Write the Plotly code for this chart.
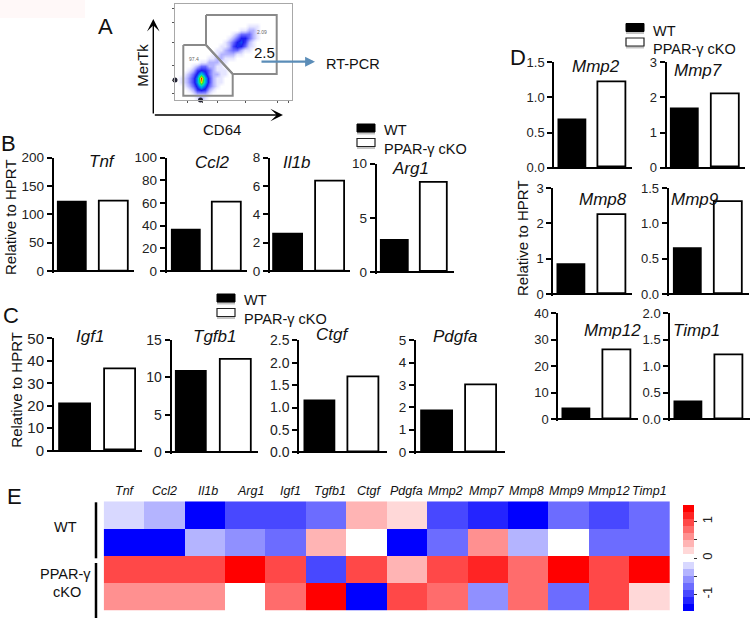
import plotly.graph_objects as go

W, H = 750, 621
FONT = "Liberation Sans"

# ---------- data ----------
genes = ["Tnf", "Ccl2", "Il1b", "Arg1", "Igf1", "Tgfb1", "Ctgf", "Pdgfa",
         "Mmp2", "Mmp7", "Mmp8", "Mmp9", "Mmp12", "Timp1"]
wt_values = [120, 35.5, 2.6, 2.9, 20.5, 10.8, 1.13, 1.8, 0.67, 1.65, 0.82, 0.63, 3.8, 0.32]
cko_values = [123, 60.5, 6.3, 8.2, 36.3, 12.4, 1.68, 3.0, 1.21, 2.1, 2.23, 1.3, 26, 1.2]
y_max = [200, 100, 8, 10, 50, 15, 2.5, 5, 1.5, 3, 3, 1.5, 40, 2]
y_step = [50, 20, 2, 5, 10, 5, 0.5, 1, 0.5, 1, 1, 0.5, 10, 0.5]
y_fmt = ["", "", "", "", "", "", ".1f", "", ".1f", "", "", ".1f", "", ".1f"]

heat_row_labels = ["WT 1", "WT 2", "cKO 1", "cKO 2"]
heat_wt1 = [-0.2, -0.4, -1.4, -1.0, -1.0, -0.8, 0.4, 0.2, -1.0, -1.2, -1.4, -0.8, -1.0, -0.8]
heat_wt2 = [-1.4, -1.4, -0.4, -0.6, -0.8, 0.4, 0.0, -1.4, -0.8, 0.6, -0.4, 0.0, -0.8, -0.8]
heat_ko1 = [1.0, 1.0, 1.0, 1.4, 1.0, -1.0, 1.0, 0.4, 1.0, 1.2, 0.8, 1.4, 1.0, 1.4]
heat_ko2 = [0.6, 0.6, 0.6, 0.0, 0.8, 1.4, -1.4, 1.0, 0.8, -0.6, 0.8, -0.8, 1.0, 0.2]
heat_colors = ["#0000ff", "#2424ff", "#4848ff", "#6c6cff", "#9090ff", "#b4b4ff", "#d8d8ff", "#ffffff",
               "#ffd8d8", "#ffb4b4", "#ff9090", "#ff6c6c", "#ff4848", "#ff2424", "#ff0000"]

# flow-cytometry density, read on a coarse grid (0 empty .. 9 peak)
flow_density = [
    [0]*29, [0]*29, [0]*29, [0]*29, [0]*29,
    [0,0,0,0,0,0,0,0,0,0,0,0,0,0,0,0,0,0,1,1,1,0,0,0,0,0,0,0,0],
    [0,0,0,0,0,0,0,0,0,0,0,0,0,0,0,0,1,1,2,2,1,0,0,0,0,0,0,0,0],
    [0,0,0,0,0,0,0,0,0,0,0,0,0,0,1,2,3,3,3,2,1,0,0,0,0,0,0,0,0],
    [0,0,0,0,0,0,0,0,0,0,0,0,0,1,2,3,4,4,3,2,1,0,0,0,0,0,0,0,0],
    [0,0,0,0,0,0,0,0,0,0,0,0,1,2,3,4,4.4,3.6,2,1,0,0,0,0,0,0,0,0,0],
    [0,0,0,0,0,0,0,0,0,0,0,1,1,2,3.5,4.2,4,3,1.5,1,0,0,0,0,0,0,0,0,0],
    [0,0,0,0,0,0,0,0,0,0,1,1,2,2.5,3,3,2,1,1,0,0,0,0,0,0,0,0,0,0],
    [0,0,0,0,0,0,0,0,0,1,1,2,2,2,2,1,1,0,0,0,0,0,0,0,0,0,0,0,0],
    [0,0,0,0,0,0,0,0,1,1,2,2,1,1,1,0,0,0,0,0,0,0,0,0,0,0,0,0,0],
    [0,0,0,0,0,0,1,1,2,2,2,1,1,0,0,0,0,0,0,0,0,0,0,0,0,0,0,0,0],
    [0,0,0,0,1,2,3,3,2,2,1,1,0,0,0,0,0,0,0,0,0,0,0,0,0,0,0,0,0],
    [0,0,0,1,2,3.5,4,3.8,3,2,1,1,1,0,0,0,0,0,0,0,0,0,0,0,0,0,0,0,0],
    [0,0,1,2,3,4.2,5.8,4.4,3,2,2,1,1,0,0,0,0,0,0,0,0,0,0,0,0,0,0,0,0],
    [0,1,1.5,2.5,3.5,5,9,5.4,3.5,2,1,1,0,0,0,0,0,0,0,0,0,0,0,0,0,0,0,0,0],
    [0,1,1.5,2.5,3.5,5,8,5.4,3.5,2,1,1,0,0,0,0,0,0,0,0,0,0,0,0,0,0,0,0,0],
    [0,0,1,2,3,4.3,5.6,4.5,3,2,1,0,0,0,0,0,0,0,0,0,0,0,0,0,0,0,0,0,0],
    [0,0,0,1,2,3.6,4,3.6,2,1,0,0,0,0,0,0,0,0,0,0,0,0,0,0,0,0,0,0,0],
    [0,0,0,0,1,2,2,2,1,0,0,0,0,0,0,0,0,0,0,0,0,0,0,0,0,0,0,0,0],
    [0,0,0,0,0,1,2,1,0,0,0,0,0,0,0,0,0,0,0,0,0,0,0,0,0,0,0,0,0],
]
flow_scale = [[0, "#ffffff"], [1/9, "#e6e6ff"], [2/9, "#b4b4ff"], [3/9, "#6a6aff"], [4/9, "#1c1cf0"],
              [5/9, "#0090f0"], [6/9, "#00e0c0"], [7/9, "#30e030"], [8/9, "#f0e000"], [1, "#f01000"]]

# ---------- layout geometry, in picture pixels ----------
# axis x, axis right end, y at zero, y at top, bar 1 left/right, bar 2 left/right, tick font
geom = [
    (52.7, 134, 271, 157.5, 58, 87, 100, 128, 13.5),
    (165.7, 247, 271, 157.5, 172, 201, 213, 241, 13.5),
    (269, 350, 271, 157.5, 274, 303, 316, 345, 13.5),
    (375.7, 454, 272, 163.7, 381, 409, 421, 447, 13.5),
    (53, 142, 450.7, 338.3, 59, 91, 105, 135, 15),
    (170.7, 258, 452.3, 339.7, 176, 207, 221, 251, 14),
    (298.3, 387, 452.3, 340.3, 305, 336, 349, 379, 14),
    (415, 505, 452, 340.3, 421, 453, 466, 496, 13.5),
    (553.3, 632, 167.7, 62.3, 559, 587, 599, 626, 13),
    (665.7, 745, 167.7, 62.3, 671, 699, 712, 739, 13),
    (552.3, 632, 294, 188, 558, 586, 599, 626, 13),
    (667.7, 749, 294, 188, 674, 702, 715, 742, 13),
    (557.3, 637.7, 419, 313.3, 563, 591, 604, 631, 13),
    (669.3, 750, 419, 313.3, 675, 703, 716, 743, 13),
]
title_pos = [(102.7, 161.7), (213, 162), (296.7, 162), (410, 168), (90, 336.7), (214, 336.7), (332, 335),
             (455, 336.7), (595.7, 66.7), (698, 70.7), (603, 199), (695, 199), (612.7, 330.7), (696, 330.7)]
col_label_x = [125, 164, 207.7, 250, 290, 330, 369, 406, 445.7, 487, 526.7, 566, 609, 649]


def fx(px):
    return px / W


def fy(py):
    return 1 - py / H


fig = go.Figure()
axes = {}
annots = []
shapes = []


def label(text, x, y, size=14, italic=False, color="#111111", angle=0, anchor="center"):
    annots.append(dict(text=f"<i>{text}</i>" if italic else text, x=fx(x), y=fy(y), xref="paper", yref="paper",
                       showarrow=False, xanchor=anchor, yanchor="middle", textangle=angle,
                       font=dict(family=FONT, size=size, color=color)))


def arrow(x0, y0, x1, y1, color, width, head, size=1.0):
    annots.append(dict(text="", x=fx(x1), y=fy(y1), ax=x0 - x1, ay=y0 - y1, xref="paper", yref="paper",
                       axref="pixel", ayref="pixel", showarrow=True, arrowhead=head, arrowsize=size,
                       arrowwidth=width, arrowcolor=color))


def legend_key(x, y_top, text_x, wt_y, ko_y):
    for top in (y_top, y_top + 14.5):
        shapes.append(dict(type="rect", xref="paper", yref="paper", x0=fx(x), x1=fx(x + 18), y0=fy(top + 8), y1=fy(top + 10.5),
                           fillcolor="#c4c4c4", line=dict(width=0)))
    shapes.append(dict(type="rect", xref="paper", yref="paper", x0=fx(x), x1=fx(x + 18), y0=fy(y_top), y1=fy(y_top + 8),
                       fillcolor="black", line=dict(color="black", width=1)))
    shapes.append(dict(type="rect", xref="paper", yref="paper", x0=fx(x), x1=fx(x + 18), y0=fy(y_top + 14.5), y1=fy(y_top + 22.5),
                       fillcolor="white", line=dict(color="#222222", width=1.2)))
    label("WT", text_x, wt_y, 14.5, anchor="left")
    label("PPAR-γ cKO", text_x, ko_y, 14.5, anchor="left")


# ---------- bar panels ----------
n = 0
PAD = 1.5  # picture pixels kept under zero so the baseline can be drawn as the zero line
for i, gene in enumerate(genes):
    n += 1
    left, right, y0, ytop, a0, a1, b0, b1, tf = geom[i]
    c0, c1 = (a0 + a1) / 2, (b0 + b1) / 2
    unit = c1 - c0
    bar_w = ((a1 - a0) + (b1 - b0)) / 2 / unit
    fig.add_trace(go.Bar(x=[0, 1], y=[wt_values[i], cko_values[i]], width=bar_w,
                         marker=dict(color=["black", "white"], line=dict(color="black", width=1.8)),
                         xaxis=f"x{n}", yaxis=f"y{n}", showlegend=False))
    ticks = []
    k = 0
    while k * y_step[i] <= y_max[i] + 1e-9:
        ticks.append(round(k * y_step[i], 3))
        k += 1
    dl = left + 1
    below = PAD * y_max[i] / (y0 - ytop)
    axes[f"xaxis{n}"] = dict(domain=[fx(dl), min(fx(right), 1)], range=[(dl - c0) / unit, (right - c0) / unit],
                             anchor=f"y{n}", showline=False, ticks="",
                             showticklabels=False, showgrid=False, zeroline=False, fixedrange=True)
    axes[f"yaxis{n}"] = dict(domain=[fy(y0 + PAD), fy(ytop)], range=[-below, y_max[i]], anchor=f"x{n}", showline=True,
                             linecolor="black", linewidth=2, ticks="outside", ticklen=5, tickwidth=1.6, tickcolor="black",
                             tickvals=ticks, tickformat=y_fmt[i], showgrid=False,
                             zeroline=True, zerolinecolor="black", zerolinewidth=2,
                             tickfont=dict(family=FONT, size=tf, color="#222222"), fixedrange=True)
    label(gene, title_pos[i][0], title_pos[i][1], 17, italic=True)

# ---------- flow plot ----------
n += 1
flow_x = [177 + 4 * j for j in range(29)]
flow_y = [6 + 4 * r for r in range(24)]
fig.add_trace(go.Heatmap(x=flow_x, y=flow_y, z=flow_density, zmin=0, zmax=9, colorscale=flow_scale, zsmooth="best",
                         showscale=False, xaxis=f"x{n}", yaxis=f"y{n}"))
gate_hi_x = [206, 276.7, 276.7, 232.7, 206, 206]
gate_hi_y = [15, 15, 74, 74, 45, 15]
gate_lo_x = [183.3, 206, 232.7, 232.7, 183.3, 183.3]
gate_lo_y = [45, 45, 74, 95.7, 95.7, 45]
for gx, gy in ((gate_hi_x, gate_hi_y), (gate_lo_x, gate_lo_y)):
    fig.add_trace(go.Scatter(x=gx, y=gy, mode="lines", line=dict(color="#8a8a8a", width=2), showlegend=False,
                             xaxis=f"x{n}", yaxis=f"y{n}"))
fig.add_trace(go.Scatter(x=[175, 200.5], y=[80, 100], mode="markers", marker=dict(color="#222233", size=5), showlegend=False,
                         xaxis=f"x{n}", yaxis=f"y{n}", cliponaxis=False))
axes[f"xaxis{n}"] = dict(domain=[fx(175), fx(291.7)], range=[175, 291.7], anchor=f"y{n}", showline=True, mirror=True,
                         linecolor="#a8a8a8", linewidth=1.2, ticks="outside", ticklen=2, tickwidth=1, tickcolor="#555555",
                         tickvals=[187, 202, 217, 245, 277, 288], showticklabels=False, showgrid=False, zeroline=False, fixedrange=True)
axes[f"yaxis{n}"] = dict(domain=[fy(100), fy(4)], range=[100, 4], anchor=f"x{n}", showline=True, mirror=True,
                         linecolor="#a8a8a8", linewidth=1.2, ticks="outside", ticklen=2, tickwidth=1, tickcolor="#555555",
                         tickvals=[8, 22, 42, 65, 80, 93], showticklabels=False, showgrid=False, zeroline=False, fixedrange=True)
label("2.09", 261.7, 32, 5, color="#666666")
label("97.4", 194, 59, 5, color="#666666")
arrow(153.3, 115, 153.3, 19, "black", 1.4, 3, 1.5)
arrow(153.3, 115, 283, 115, "black", 1.4, 3, 1.5)
arrow(260, 61.7, 315, 61.7, "#5b8db8", 2.2, 2, 0.9)
label("2.5", 264, 52, 15)
label("RT-PCR", 353, 64.3, 14.5)
label("MerTk", 141.7, 65, 15, angle=-90)
label("CD64", 221.7, 129.3, 15)

# ---------- heat map ----------
n += 1
m = len(heat_colors)
stepped = []
for i, c in enumerate(heat_colors):
    stepped += [[i / m, c], [(i + 1) / m, c]]
fig.add_trace(go.Heatmap(z=[heat_wt1, heat_wt2, heat_ko1, heat_ko2], x=genes, y=heat_row_labels, zmin=-1.45, zmax=1.45,
                         colorscale=stepped, xaxis=f"x{n}", yaxis=f"y{n}",
                         colorbar=dict(x=fx(682.7), xanchor="left", xpad=0, y=fy(558), yanchor="middle", ypad=0,
                                       thicknessmode="pixels", thickness=10.6, lenmode="pixels", len=106,
                                       outlinewidth=0, ticks="outside", ticklen=3, tickwidth=1, tickcolor="#333333",
                                       tickvals=[-1, -0.5, 0, 0.5, 1], ticktext=["-1", "", "0", "", "1"], tickangle=-90,
                                       tickfont=dict(family=FONT, size=13, color="#222222"))))
axes[f"xaxis{n}"] = dict(domain=[fx(103.7), fx(670)], anchor=f"y{n}", visible=False, fixedrange=True)
axes[f"yaxis{n}"] = dict(domain=[fy(610.7), fy(501.3)], anchor=f"x{n}", visible=False, autorange="reversed", fixedrange=True)
for name, x in zip(genes, col_label_x):
    label(name, x, 490.7, 12.5, italic=True)
label("WT", 65.7, 527, 14.5)
label("PPAR-γ", 65, 574, 14.5)
label("cKO", 66.7, 591.7, 14.5)
for y_a, y_b in ((502.3, 558.3), (563, 618)):
    shapes.append(dict(type="line", xref="paper", yref="paper", x0=fx(96), x1=fx(96), y0=fy(y_a), y1=fy(y_b),
                       line=dict(color="black", width=2.5)))

# ---------- shared text ----------
label("A", 105, 27, 22)
label("B", 8.5, 143, 22)
label("C", 11, 315, 22)
label("D", 518, 57.7, 22)
label("E", 14, 496, 22)
label("Relative to HPRT", 10, 217, 15, angle=-90)
label("Relative to HPRT", 15.7, 390, 15, angle=-90)
label("Relative to HPRT", 522.5, 238.5, 15, angle=-90)
legend_key(357, 124, 381.7, 130, 149.3)
legend_key(217, 294, 242, 300, 319)
legend_key(626, 23.5, 650.7, 30.7, 49.3)
shapes.append(dict(type="rect", xref="paper", yref="paper", x0=0, x1=fx(85), y0=fy(18), y1=1,
                   fillcolor="#fff8f8", line=dict(width=0), layer="below"))

fig.update_layout(width=W, height=H, margin=dict(l=0, r=0, t=0, b=0, autoexpand=False), autosize=False,
                  paper_bgcolor="white", plot_bgcolor="rgba(0,0,0,0)", showlegend=False, bargap=0,
                  annotations=annots, shapes=shapes, **axes)
fig.write_html("out.html", post_script="document.body.style.margin='0';document.documentElement.style.overflow='hidden';",
               config={"displayModeBar": False})
